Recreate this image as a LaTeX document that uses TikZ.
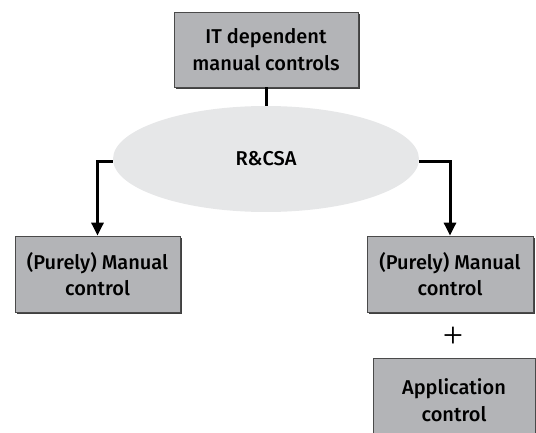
\documentclass[tikz,border=0pt]{standalone}
\usepackage{fontspec}
\setmainfont{Fira Sans}[UprightFont=* Medium]
\newfontfamily\plusfont{Liberation Serif}
\usetikzlibrary{arrows.meta,shadows,shapes.geometric}
\definecolor{boxgray}{HTML}{B3B4B7}
\definecolor{ovalgray}{HTML}{E6E7E8}
\definecolor{edgegray}{HTML}{4A4A4A}
\tikzset{
  ctrlbox/.style={rectangle, draw=edgegray, line width=0.8pt, fill=boxgray,
    align=center, font=\fontsize{20}{26.5}\selectfont, inner sep=0pt,
    drop shadow={shadow xshift=1.6pt, shadow yshift=-1.6pt, fill=black!75, opacity=1}},
  oval/.style={ellipse, fill=ovalgray, draw=none, inner sep=0pt,
    font=\fontsize{20}{22}\selectfont},
  link/.style={line width=3pt, black},
  arrowlink/.style={link, -{Triangle[width=12pt,length=13pt]}}
}
\begin{document}
\begin{tikzpicture}[x=1pt,y=-1pt]
  \useasboundingbox (0,0) rectangle (536,433);
  \clip (0,0) rectangle (536,433);
  % boxes and review oval
  \node[ctrlbox, minimum width=184pt, minimum height=75pt] (top) at (266,49.5)
    {IT dependent\\manual controls};
  \node[oval, minimum width=306pt, minimum height=106pt] (csa) at (266,159) {R\&CSA};
  \node[ctrlbox, minimum width=165pt, minimum height=76pt] (left) at (97.5,274)
    {(Purely) Manual\\control};
  \node[ctrlbox, minimum width=166pt, minimum height=76pt] (right) at (450,274)
    {(Purely) Manual\\control};
  \node[font=\plusfont\fontsize{36}{36}\selectfont, inner sep=0pt] (plus) at (453,337) {+};
  \node[ctrlbox, minimum width=162pt, minimum height=84pt] (app) at (454,400)
    {Application\\control};
  % connectors
  \draw[link] (top.south) -- (csa.north);
  \draw[arrowlink] ([yshift=-3pt]csa.west) -| (left.north);
  \draw[arrowlink] ([yshift=-3pt]csa.east) -| (right.north);
\end{tikzpicture}
\end{document}
